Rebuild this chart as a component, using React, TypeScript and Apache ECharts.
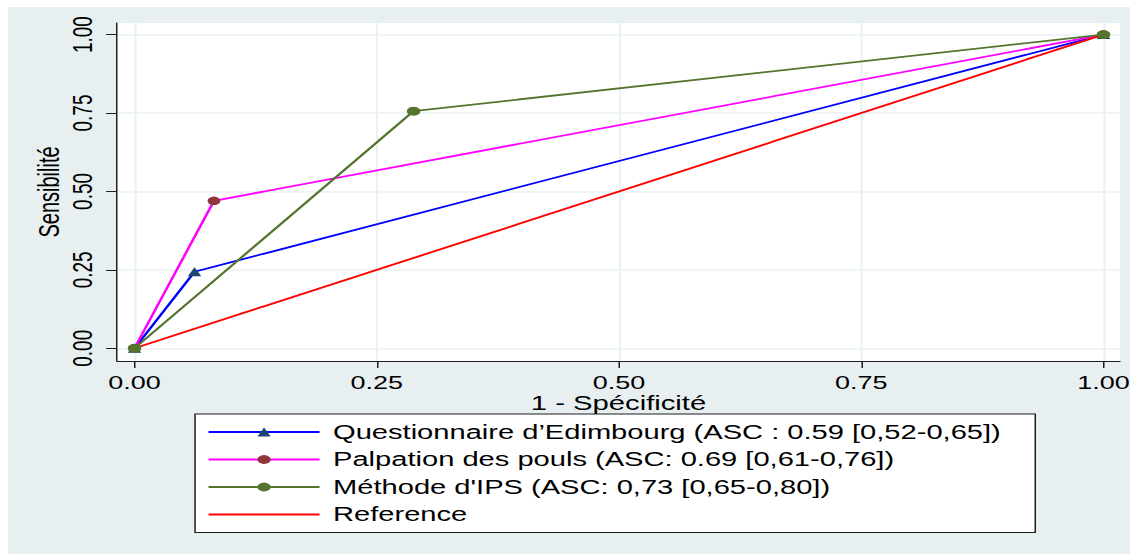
import React, { useEffect, useRef } from "react";
import * as echarts from "echarts";

// Axis ticks (both axes share the same 0 → 1 scale)
const TICK_VALUES = [0, 0.25, 0.5, 0.75, 1];

// Legend / series names
const NAME_EDIMBOURG = "Questionnaire d’Edimbourg (ASC : 0.59 [0,52-0,65])";
const NAME_POULS = "Palpation des pouls (ASC: 0.69 [0,61-0,76])";
const NAME_IPS = "Méthode d'IPS (ASC: 0,73 [0,65-0,80])";
const NAME_REFERENCE = "Reference";

// ROC points: [1 - spécificité, sensibilité]
const ROC_EDIMBOURG: [number, number][] = [
  [0, 0],
  [0.062, 0.244],
  [1, 1],
];
const ROC_POULS: [number, number][] = [
  [0, 0],
  [0.082, 0.47],
  [1, 1],
];
const ROC_IPS: [number, number][] = [
  [0, 0],
  [0.288, 0.756],
  [1, 1],
];
const ROC_REFERENCE: [number, number][] = [
  [0, 0],
  [1, 1],
];

// The graph is drawn narrow, then widened horizontally (Stata-style wide export).
const STRETCH = 1.5;
const FULL_W = 1122;
const FULL_H = 547;
const FONT = "'Liberation Sans', Arial, Helvetica, sans-serif";

const fmt = (v: number) => v.toFixed(2);

function buildOption() {
  const axisLineStyle = { color: "#1e1e1e", width: 1 };
  const gridLine = { show: true, lineStyle: { color: "#eaf2f3", width: 1.5 } };
  return {
    animation: false,
    backgroundColor: "transparent",
    grid: {
      left: 72.7,
      right: 6.7,
      top: 16,
      bottom: 193,
      show: true,
      backgroundColor: "#ffffff",
      borderWidth: 0,
      outerBoundsMode: "none",
    },
    xAxis: {
      type: "value",
      min: -0.018,
      max: 1.017,
      name: "1 - Spécificité",
      nameLocation: "middle",
      nameGap: 34.5,
      nameMoveOverlap: false,
      nameTextStyle: { fontFamily: FONT, fontSize: 19.5, lineHeight: 16, color: "#000" },
      axisLine: { show: true, onZero: false, lineStyle: axisLineStyle },
      axisTick: { show: true, length: 7, customValues: TICK_VALUES, lineStyle: axisLineStyle },
      axisLabel: {
        show: true,
        customValues: TICK_VALUES,
        formatter: fmt,
        margin: 14,
        fontFamily: FONT,
        fontSize: 18,
        lineHeight: 15,
        color: "#000",
      },
      splitLine: gridLine,
    },
    yAxis: {
      type: "value",
      min: -0.0405,
      max: 1.037,
      name: "Sensibilité",
      nameLocation: "middle",
      nameGap: 36,
      nameRotate: 90,
      nameMoveOverlap: false,
      nameTextStyle: { fontFamily: FONT, fontSize: 20, color: "#000" },
      axisLine: { show: true, onZero: false, lineStyle: axisLineStyle },
      axisTick: { show: true, length: 7.3, customValues: TICK_VALUES, lineStyle: axisLineStyle },
      axisLabel: {
        show: true,
        customValues: TICK_VALUES,
        formatter: fmt,
        rotate: 90,
        margin: 14,
        fontFamily: FONT,
        fontSize: 19,
        color: "#000",
      },
      splitLine: gridLine,
    },
    legend: {
      orient: "vertical",
      left: 124.7,
      top: 407,
      backgroundColor: "#ffffff",
      borderColor: "#1e1e1e",
      borderWidth: 1,
      borderRadius: 0,
      padding: [8, 23, 8, 8],
      itemWidth: 74,
      itemHeight: 11,
      itemGap: 7.5,
      selectedMode: false,
      textStyle: {
        fontFamily: FONT,
        fontSize: 19.4,
        color: "#000",
        lineHeight: 20,
        padding: [0, 0, 0, 4],
      },
      data: [NAME_EDIMBOURG, NAME_POULS, NAME_IPS, NAME_REFERENCE],
    },
    series: [
      {
        name: NAME_EDIMBOURG,
        type: "line",
        data: ROC_EDIMBOURG,
        symbol: "triangle",
        symbolSize: 9,
        showSymbol: true,
        lineStyle: { color: "#0000ff", width: 1.8 },
        itemStyle: { color: "#1a476f", borderWidth: 0 },
        emphasis: { disabled: true },
      },
      {
        name: NAME_POULS,
        type: "line",
        data: ROC_POULS,
        symbol: "circle",
        symbolSize: 8.5,
        showSymbol: true,
        lineStyle: { color: "#ff00ff", width: 1.8 },
        itemStyle: { color: "#90353b", borderWidth: 0 },
        emphasis: { disabled: true },
      },
      {
        name: NAME_IPS,
        type: "line",
        data: ROC_IPS,
        symbol: "circle",
        symbolSize: 9,
        showSymbol: true,
        lineStyle: { color: "#55752f", width: 1.8 },
        itemStyle: { color: "#55752f", borderWidth: 0 },
        emphasis: { disabled: true },
      },
      {
        name: NAME_REFERENCE,
        type: "line",
        data: ROC_REFERENCE,
        symbol: "circle",
        symbolSize: 1,
        showSymbol: false,
        lineStyle: { color: "#ff0000", width: 1.8 },
        itemStyle: { color: "rgba(0,0,0,0)", borderWidth: 0 },
        emphasis: { disabled: true },
      },
    ],
  };
}

export default function App() {
  const ref = useRef<HTMLDivElement>(null);

  useEffect(() => {
    if (!ref.current) return;
    const chart = echarts.init(ref.current, null, { renderer: "svg" });
    chart.setOption(buildOption() as any);
    return () => chart.dispose();
  }, []);

  return (
    <div
      style={{
        position: "fixed",
        left: 8,
        top: 7,
        width: FULL_W,
        height: FULL_H,
        background: "#e8eff1",
        overflow: "hidden",
      }}
    >
      <div
        ref={ref}
        style={{
          width: FULL_W / STRETCH,
          height: FULL_H,
          transform: `scaleX(${STRETCH})`,
          transformOrigin: "0 0",
        }}
      />
    </div>
  );
}
